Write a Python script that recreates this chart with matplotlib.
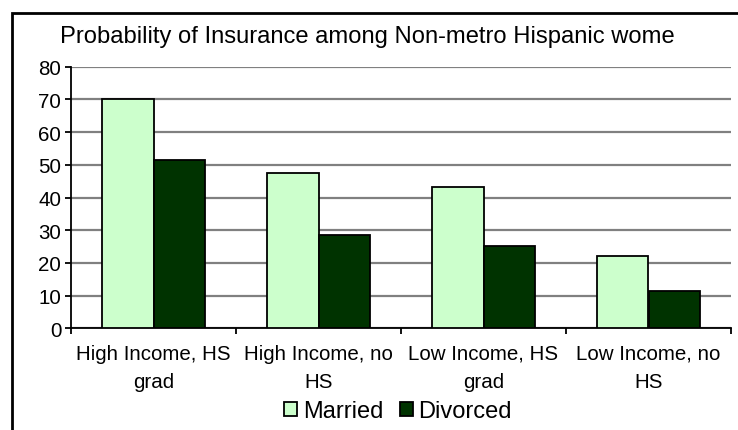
import matplotlib
matplotlib.use("Agg")
import matplotlib.pyplot as plt
import numpy as np
from matplotlib.patches import Rectangle
from matplotlib.ticker import FixedLocator, NullFormatter

categories = ["High Income, HS\ngrad", "High Income, no\nHS", "Low Income, HS\ngrad", "Low Income, no\nHS"]
married = [70.0, 47.4, 43.1, 22.2]
divorced = [51.5, 28.6, 25.3, 11.5]
series_names = ["Married", "Divorced"]
title = "Probability of Insurance among Non-metro Hispanic wome"

plt.rcParams['font.family'] = ['Liberation Sans', 'DejaVu Sans']

fig = plt.figure(figsize=(7.38, 4.31), dpi=100)
ax = fig.add_axes([71/738, 1-329.3/431, (731-71)/738, (329.3-67.7)/431])

x = np.arange(len(categories))
w = 0.315
ax.bar(x - w/2, married, w, color="#CCFFCC", edgecolor="black", linewidth=1.3, label=series_names[0], zorder=3)
ax.bar(x + w/2, divorced, w, color="#003300", edgecolor="black", linewidth=1.3, label=series_names[1], zorder=3)

ax.set_xlim(-0.5, len(categories) - 0.5)
ax.set_ylim(0, 80)
ax.set_yticks(range(0, 81, 10))
ax.yaxis.grid(True, color="#808080", linewidth=1.6, zorder=0)
ax.set_axisbelow(True)
for s in ["top", "right"]:
    ax.spines[s].set_visible(False)
for s in ["left", "bottom"]:
    ax.spines[s].set_linewidth(1.3)
    ax.spines[s].set_color("black")

ax.set_xticks(x)
ax.set_xticklabels(categories, fontsize=14.8, linespacing=1.6)
ax.tick_params(axis="x", which="major", length=0, pad=11)
ax.xaxis.set_minor_locator(FixedLocator(np.arange(-0.5, len(categories), 1.0)))
ax.xaxis.set_minor_formatter(NullFormatter())
ax.tick_params(axis="x", which="minor", length=4, width=1.3, direction="out")
ax.tick_params(axis="y", length=4, width=1.3, direction="out", labelsize=14.8, pad=3)

fig.text(60/738, 1-37/431, title, fontsize=17.1, va="center", ha="left")

leg = fig.legend(loc="center", bbox_to_anchor=(398/738, 1-412/431), ncol=2, frameon=False,
                 fontsize=17, handlelength=0.55, handleheight=0.55, handletextpad=0.25,
                 columnspacing=0.7, borderpad=0)

fig.patches.append(Rectangle((12/738, -0.2), 2, 1.2 - 14/431, transform=fig.transFigure,
                             fill=False, edgecolor="black", linewidth=2.0))

fig.savefig("out.png", dpi=100)
